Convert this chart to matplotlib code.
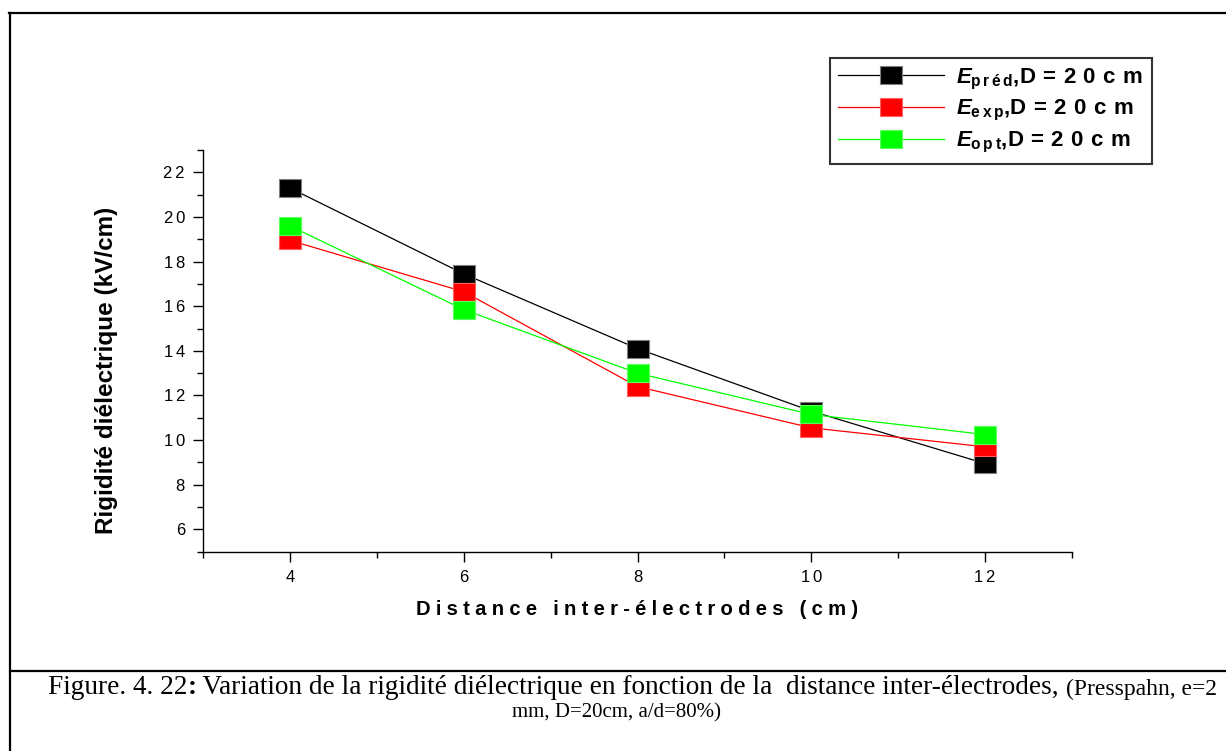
import matplotlib
matplotlib.use("Agg")
import matplotlib.pyplot as plt
from matplotlib.lines import Line2D
from matplotlib.ticker import MultipleLocator

# ---- data ----
distance = [4, 6, 8, 10, 12]
E_pred = [21.3, 17.45, 14.1, 11.3, 8.95]
E_exp = [18.95, 16.65, 12.4, 10.55, 9.7]
E_opt = [19.6, 15.85, 13.0, 11.15, 10.25]
xticks = [4, 6, 8, 10, 12]
yticks = [6, 8, 10, 12, 14, 16, 18, 20, 22]

HS = "\u200a"
def spaced(s, n=1):
    return (HS * n).join(s)

plt.rcParams['font.family'] = ['Liberation Sans', 'DejaVu Sans']
plt.rcParams['mathtext.fontset'] = 'custom'
plt.rcParams['mathtext.rm'] = 'Liberation Sans:bold'
plt.rcParams['mathtext.bf'] = 'Liberation Sans:bold'
plt.rcParams['mathtext.it'] = 'Liberation Sans:bold:italic'

W, H = 1226, 751
fig = plt.figure(figsize=(W / 100, H / 100), dpi=100)
ax = fig.add_axes([203 / W, 1 - 551.7 / H, (1072 - 203) / W, (551.7 - 150) / H])

rect = [(-1.3, -1), (1.3, -1), (1.3, 1), (-1.3, 1), (-1.3, -1)]
ms = 16.5
def lab(sub):
    return (r'$\mathit{E}_{\mathrm{' + spaced(sub, 2) + '}}$,' + spaced('D=20cm', 4))
series = [
    (E_pred, 'black', '#808080', lab('préd')),
    (E_exp, '#ff0000', '#ff6060', lab('exp')),
    (E_opt, '#00ff00', '#60ff60', lab('opt')),
]
handles = []
for vals, c, ec, label in series:
    ax.plot(distance, vals, color=c, lw=0.9, marker=rect, ms=ms,
            mfc=c, mec=ec, mew=0.8, zorder=3)
    handles.append(Line2D([], [], color=c, lw=0.9, marker=rect, ms=ms,
                          mfc=c, mec=ec, mew=0.8, label=label))

ax.set_xlim(3, 13)
ax.set_ylim(5, 23)
ax.set_xticks(xticks)
ax.set_yticks(yticks)
ax.set_xticklabels([spaced(str(v), 2) for v in xticks])
ax.set_yticklabels([spaced(str(v), 2) for v in yticks])
ax.xaxis.set_minor_locator(MultipleLocator(1))
ax.yaxis.set_minor_locator(MultipleLocator(1))
for s in ['top', 'right']:
    ax.spines[s].set_visible(False)
for s in ['left', 'bottom']:
    ax.spines[s].set_linewidth(1.0)
ax.tick_params(which='major', direction='out', length=7, width=1.0,
               labelsize=12, colors='black', pad=6)
ax.tick_params(which='minor', direction='out', length=4, width=1.0)

ax.set_xlabel(spaced('Distance inter-électrodes (cm)', 3), fontsize=14.6,
              fontweight='bold', labelpad=11)
ax.set_ylabel('Rigidité diélectrique (kV/cm)', fontsize=17.5, fontweight='bold')
ax.yaxis.set_label_coords((118 - 203) / 869, 0.451)

leg = fig.legend(handles=handles, loc='upper left',
                 bbox_to_anchor=(830 / W, 1 - 58 / H), borderaxespad=0,
                 frameon=True, fancybox=False, numpoints=1,
                 handlelength=4.75, handletextpad=0.55, labelspacing=0.3,
                 borderpad=0.38, prop={'weight': 'bold', 'size': 16})
leg.get_frame().set_edgecolor('black')
leg.get_frame().set_linewidth(1.5)

# figure borders
lw = 1.6
fig.add_artist(Line2D([9 / W, 1], [1 - 13 / H, 1 - 13 / H], color='black', lw=lw, transform=fig.transFigure))
fig.add_artist(Line2D([10 / W, 10 / W], [0, 1 - 13 / H], color='black', lw=lw, transform=fig.transFigure))
fig.add_artist(Line2D([10 / W, 1], [1 - 670.5 / H, 1 - 670.5 / H], color='black', lw=lw, transform=fig.transFigure))

# caption
serif = ['Liberation Serif', 'DejaVu Serif']
big, small = 19.6, 17
y1 = 1 - 694 / H
t1 = fig.text(48 / W, y1, 'Figure. 4. 22', family=serif, fontsize=big, va='baseline')
a1 = ax.annotate(':', xy=(1, 0), xycoords=t1, family=serif, fontsize=big,
                 fontweight='bold', va='bottom', ha='left', annotation_clip=False)
a2 = ax.annotate(' Variation de la rigidité diélectrique en fonction de la  distance inter-électrodes, ',
                 xy=(1, 0), xycoords=a1, family=serif, fontsize=big, va='bottom', ha='left',
                 annotation_clip=False)
a3 = ax.annotate('(Presspahn, e=2', xy=(1, 0), xycoords=a2, family=serif, fontsize=small,
                 va='bottom', ha='left', annotation_clip=False)
fig.text(617 / W, 1 - 717 / H, 'mm, D=20cm, a/d=80%)', family=serif, fontsize=15,
         va='baseline', ha='center')

fig.savefig('out.png', dpi=100)
